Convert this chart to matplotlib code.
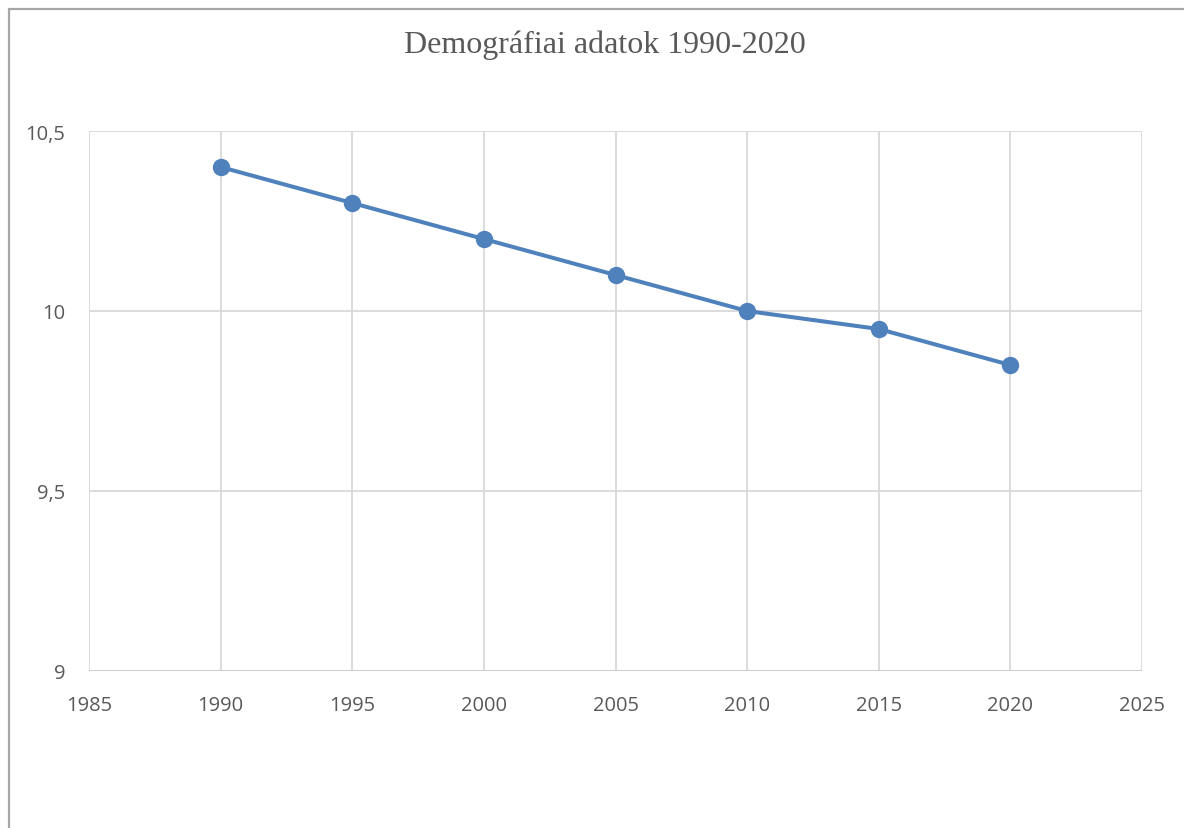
import matplotlib
matplotlib.use("Agg")
import matplotlib.pyplot as plt
from matplotlib.patches import Rectangle

# adatok
years = [1990, 1995, 2000, 2005, 2010, 2015, 2020]
values = [10.4, 10.3, 10.2, 10.1, 10.0, 9.95, 9.85]

x_ticks = [1985, 1990, 1995, 2000, 2005, 2010, 2015, 2020, 2025]
y_ticks = [9, 9.5, 10, 10.5]
y_tick_labels = ["9", "9,5", "10", "10,5"]

W, H = 1184, 829
fig = plt.figure(figsize=(W / 100, H / 100), dpi=100)
fig.patch.set_facecolor("white")

# outer chart border (right and bottom edges run off the picture)
fig.add_artist(Rectangle((8.5 / W, -0.1), 1.2, 1.1 - 9.5 / H,
                         transform=fig.transFigure, fill=False,
                         edgecolor="#a6a6a6", linewidth=1.6))

ax = fig.add_axes([89 / W, 1 - 672 / H, (1142 - 89) / W, (672 - 132) / H])
ax.plot(years, values, "-o", color="#4f81bd", linewidth=2.9,
        markersize=11.5, zorder=3, clip_on=False)

ax.set_xlim(1985, 2025)
ax.set_ylim(9, 10.5)
ax.set_xticks(x_ticks)
ax.set_xticklabels([str(x) for x in x_ticks])
ax.set_yticks(y_ticks)
ax.set_yticklabels(y_tick_labels)

for s in ax.spines.values():
    s.set_visible(False)
ax.grid(True, color="#d9d9d9", linewidth=1.3)
ax.axhline(9, color="#cfcfcf", linewidth=1.5, zorder=2)
ax.set_axisbelow(True)

ax.tick_params(length=0, labelsize=14.5, labelcolor="#595959")
ax.tick_params(axis="x", pad=17)
ax.tick_params(axis="y", pad=17)
for lab in ax.get_xticklabels() + ax.get_yticklabels():
    lab.set_fontfamily("Open Sans")

fig.text(605 / W, 1 - 45 / H, "Demográfiai adatok 1990-2020",
         ha="center", va="center", fontsize=23, color="#595959",
         family="Liberation Serif")

fig.savefig("out.png", dpi=100)
